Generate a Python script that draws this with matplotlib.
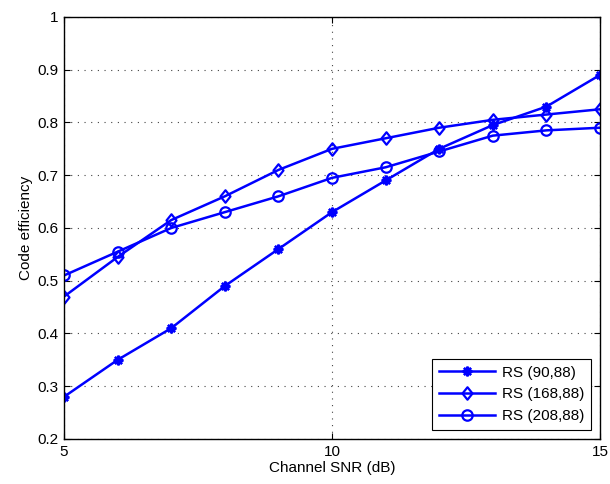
import matplotlib
matplotlib.use("Agg")
import matplotlib.pyplot as plt
from matplotlib.path import Path

plt.rcParams['font.family'] = ['Liberation Sans', 'DejaVu Sans']

snr = [5, 6, 7, 8, 9, 10, 11, 12, 13, 14, 15]
rs_90_88 = [0.28, 0.35, 0.41, 0.49, 0.56, 0.63, 0.69, 0.75, 0.795, 0.83, 0.89]
rs_168_88 = [0.47, 0.545, 0.615, 0.66, 0.71, 0.75, 0.77, 0.79, 0.805, 0.815, 0.825]
rs_208_88 = [0.51, 0.555, 0.60, 0.63, 0.66, 0.695, 0.715, 0.745, 0.775, 0.785, 0.79]

labels = ['RS (90,88)', 'RS (168,88)', 'RS (208,88)']
x_ticks = [5, 10, 15]
y_ticks = [0.2, 0.3, 0.4, 0.5, 0.6, 0.7, 0.8, 0.9, 1.0]
y_tick_labels = ['0.2', '0.3', '0.4', '0.5', '0.6', '0.7', '0.8', '0.9', '1']

# slightly tall diamond, like MATLAB's 'd'
diamond = Path([(0, 1), (0.8, 0), (0, -1), (-0.8, 0), (0, 1)],
               [Path.MOVETO, Path.LINETO, Path.LINETO, Path.LINETO, Path.CLOSEPOLY])

fig = plt.figure(figsize=(6.1, 4.84), dpi=100)
ax = fig.add_axes([0.105, 0.093, 0.8786, 0.872])

blue = '#0000ff'
lw = 1.8
ax.plot(snr, rs_90_88, color=blue, lw=lw, marker=(8, 2, 0), ms=7, mew=1.7, label=labels[0])
ax.plot(snr, rs_168_88, color=blue, lw=lw, marker=diamond, ms=9, mfc='none', mew=1.6, label=labels[1])
ax.plot(snr, rs_208_88, color=blue, lw=lw, marker='o', ms=7.5, mfc='none', mew=1.6, label=labels[2])

ax.set_xlim(5, 15)
ax.set_ylim(0.2, 1.0)
ax.set_xticks(x_ticks)
ax.set_yticks(y_ticks)
ax.set_yticklabels(y_tick_labels)
ax.tick_params(direction='in', top=True, right=True, labelsize=11, length=4, width=0.8, pad=4)
ax.grid(True, linestyle=(0, (1, 5)), color='#444444', lw=0.8)
for s in ax.spines.values():
    s.set_linewidth(1.0)

ax.set_xlabel('Channel SNR (dB)', fontsize=11, labelpad=2)
ax.set_ylabel('Code efficiency', fontsize=11, labelpad=3)

leg = ax.legend(loc='lower right', fontsize=11, fancybox=False, edgecolor='black',
                framealpha=1, handlelength=3.7, handletextpad=0.4, borderaxespad=0.6,
                labelspacing=0.5, borderpad=0.45)
leg.get_frame().set_linewidth(0.8)

fig.savefig('out.png', dpi=100)
